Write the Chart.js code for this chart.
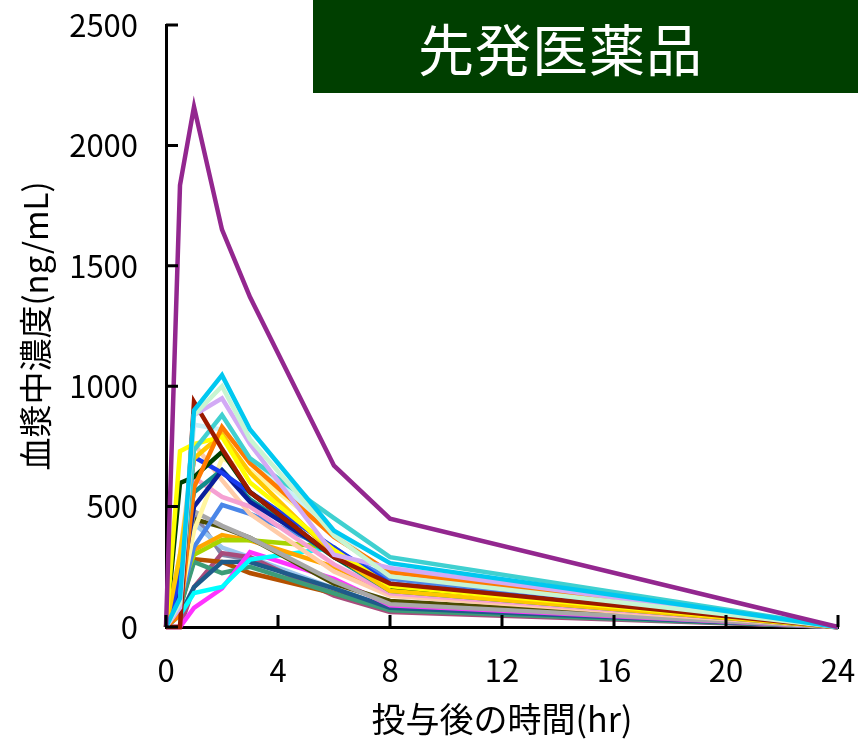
<!DOCTYPE html>
<html lang="ja">
<head>
<meta charset="utf-8">
<title>先発医薬品</title>
<script src="https://cdn.jsdelivr.net/npm/chart.js@4/dist/chart.umd.min.js"></script>
<style>
  html, body { margin: 0; padding: 0; background: #fff; }
  #wrap { position: relative; width: 858px; height: 739px; }
  #badge {
    position: absolute; left: 313px; top: 0; width: 545px; height: 93px;
    background: #003f00; color: #fff;
    font-family: "Noto Sans CJK JP", sans-serif; font-size: 56px;
    line-height: 93px; padding-left: 105px; box-sizing: border-box;
    letter-spacing: 1px;
  }
</style>
</head>
<body>
<div id="wrap">
  <canvas id="chart" width="858" height="739"></canvas>
  <div id="badge">先発医薬品</div>
</div>
<script>
// 採血時間 (hr)
const times = [0, 0.5, 1, 2, 3, 6, 8, 24];

// 各被験者の血漿中濃度 (ng/mL)
const subj01 = [0, 1835, 2160, 1650, 1370, 670, 450, 0];
const subj02 = [0, 120, 900, 1046, 820, 400, 265, 0];
const subj03 = [0, 100, 880, 1000, 780, 380, 210, 0];
const subj04 = [0, 80, 880, 950, 760, 300, 245, 0];
const subj05 = [0, 0, 935, 740, 560, 290, 180, 0];
const subj06 = [0, 100, 735, 880, 700, 452, 290, 0];
const subj07 = [0, 50, 580, 830, 680, 374, 228, 0];
const subj08 = [0, 730, 760, 790, 600, 320, 170, 0];
const subj09 = [0, 300, 700, 800, 640, 300, 150, 0];
const subj10 = [0, 598, 623, 727, 560, 290, 166, 0];
const subj11 = [0, 200, 706, 640, 560, 330, 180, 0];
const subj12 = [0, 150, 500, 650, 520, 300, 170, 0];
const subj13 = [0, 250, 560, 652, 530, 290, 150, 0];
const subj14 = [0, 200, 620, 540, 500, 260, 140, 0];
const subj15 = [0, 300, 760, 610, 470, 230, 130, 0];
const subj16 = [0, 100, 400, 700, 650, 380, 220, 0];
const subj17 = [0, 100, 332, 507, 470, 320, 200, 0];
const subj18 = [0, 150, 480, 420, 370, 190, 95, 0];
const subj19 = [0, 100, 448, 415, 370, 180, 108, 0];
const subj20 = [0, 150, 300, 361, 360, 330, 160, 0];
const subj21 = [0, 200, 320, 382, 360, 250, 140, 0];
const subj22 = [0, 50, 141, 166, 280, 330, 170, 0];
const subj23 = [0, 0, 79, 160, 311, 200, 90, 0];
const subj24 = [0, 50, 166, 270, 270, 160, 80, 0];
const subj25 = [0, 80, 270, 224, 250, 140, 70, 0];
const subj26 = [0, 80, 282, 270, 224, 140, 75, 0];
const subj27 = [0, 0, 166, 307, 290, 130, 62, 0];
const subj28 = [0, 200, 430, 330, 290, 160, 80, 0];
const subj29 = [0, 100, 470, 300, 280, 150, 80, 0];
const subj30 = [0, 150, 840, 820, 700, 400, 203, 0];

const series = [
  subj01, subj02, subj03, subj04, subj05, subj06, subj07, subj08, subj09, subj10,
  subj11, subj12, subj13, subj14, subj15, subj16, subj17, subj18, subj19, subj20,
  subj21, subj22, subj23, subj24, subj25, subj26, subj27, subj28, subj29, subj30,
];

const lineColors = [
  '#93278f', '#00c8f0', '#c8f5d2', '#d2aaf5', '#9b1a00', '#40d0d0', '#ff7b00', '#ffff00',
  '#ffc800', '#004000', '#1a3cf0', '#0a1e9b', '#138c8c', '#f5a0d2', '#ffcca8', '#fff5a0',
  '#4a86e8', '#a8a8a8', '#4b4b00', '#a8d400', '#ffa500', '#00ffff', '#ff33ff', '#1f5a8a',
  '#3c9c78', '#b45000', '#a84c7c', '#9cc8f0', '#8484a8', '#c8f0f8',
];

const xTicks = [0, 4, 8, 12, 16, 20, 24];
const yTicks = [0, 500, 1000, 1500, 2000, 2500];

const fontFamily = '"Noto Sans CJK JP", "Noto Sans", sans-serif';

// 内向きの目盛り線
const innerTicksPlugin = {
  id: 'innerTicks',
  afterDraw(chart) {
    const { ctx, chartArea, scales } = chart;
    ctx.save();
    ctx.strokeStyle = '#000';
    ctx.lineWidth = 3;
    ctx.beginPath();
    scales.x.ticks.forEach((t) => {
      const px = scales.x.getPixelForValue(t.value);
      ctx.moveTo(px, chartArea.bottom);
      ctx.lineTo(px, chartArea.bottom - 12);
    });
    scales.y.ticks.forEach((t) => {
      const py = scales.y.getPixelForValue(t.value);
      ctx.moveTo(chartArea.left, py);
      ctx.lineTo(chartArea.left + 12, py);
    });
    ctx.stroke();
    ctx.restore();
  },
};

const ctx = document.getElementById('chart').getContext('2d');
new Chart(ctx, {
  type: 'line',
  data: {
    datasets: series.map((values, i) => ({
      data: times.map((t, k) => ({ x: t, y: values[k] })),
      borderColor: lineColors[i],
      backgroundColor: lineColors[i],
      borderWidth: 4.5,
      pointRadius: 0,
      tension: 0,
      clip: false,
    })),
  },
  options: {
    responsive: false,
    animation: false,
    layout: { padding: { top: 25, right: 20, left: 0, bottom: 0 } },
    plugins: {
      legend: { display: false },
      tooltip: { enabled: false },
    },
    scales: {
      x: {
        type: 'linear',
        min: 0,
        max: 24,
        afterBuildTicks: (scale) => { scale.ticks = xTicks.map((v) => ({ value: v })); },
        afterFit: (scale) => {
          scale.height = 112;
          scale.paddingLeft = 0;
          scale.paddingRight = 0;
        },
        grid: { display: false, drawTicks: false },
        border: { display: true, color: '#000', width: 3 },
        ticks: {
          color: '#000',
          padding: 25,
          maxRotation: 0,
          font: { family: fontFamily, size: 31 },
          callback: (v) => String(v),
        },
        title: {
          display: true,
          text: '投与後の時間(hr)',
          color: '#000',
          padding: { top: 0, bottom: 0 },
          font: { family: fontFamily, size: 34 },
        },
      },
      y: {
        min: 0,
        max: 2500,
        afterBuildTicks: (scale) => { scale.ticks = yTicks.map((v) => ({ value: v })); },
        afterFit: (scale) => {
          scale.width = 166;
          scale.paddingTop = 0;
          scale.paddingBottom = 0;
        },
        grid: { display: false, drawTicks: false },
        border: { display: true, color: '#000', width: 3 },
        ticks: {
          color: '#000',
          padding: 28,
          font: { family: fontFamily, size: 31 },
          callback: (v) => String(v),
        },
        title: {
          display: true,
          text: '血漿中濃度(ng/mL)',
          color: '#000',
          padding: { top: 16, bottom: 0 },
          font: { family: fontFamily, size: 33 },
        },
      },
    },
  },
  plugins: [innerTicksPlugin],
});
</script>
</body>
</html>
